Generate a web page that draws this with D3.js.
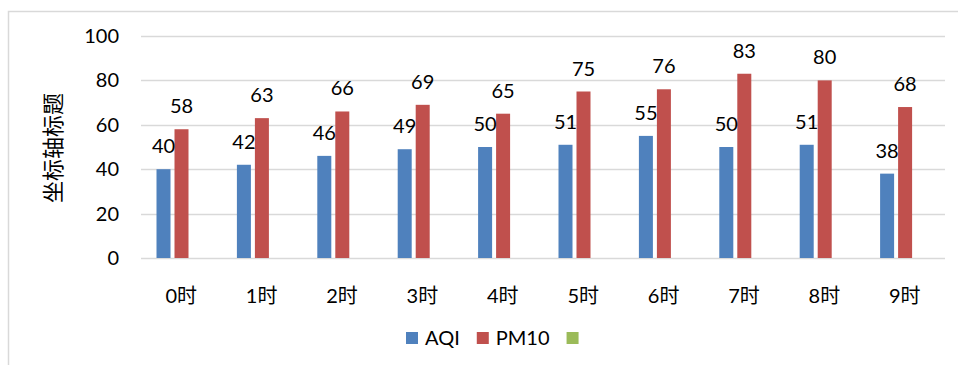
<!DOCTYPE html>
<html>
<head>
<meta charset="utf-8">
<script src="https://cdn.jsdelivr.net/npm/d3@7/dist/d3.min.js"></script>
<style>
  body { margin: 0; background: #fff; }
  svg text { font-family: Lato, "Noto Sans CJK SC", sans-serif; fill: #000; }
</style>
</head>
<body>
<div id="chart"></div>
<script>
// chart data
const hours = ['0时', '1时', '2时', '3时', '4时', '5时', '6时', '7时', '8时', '9时'];
const seriesNames = ['AQI', 'PM10', ''];
const aqiValues = [40, 42, 46, 49, 50, 51, 55, 50, 51, 38];
const pm10Values = [58, 63, 66, 69, 65, 75, 76, 83, 80, 68];
const emptyValues = [null, null, null, null, null, null, null, null, null, null];
const yTicks = [0, 20, 40, 60, 80, 100];

const CONFIG = {
  WIDTH: 958,
  HEIGHT: 365,
  COLORS: ['#4F81BD', '#C0504D', '#9BBB59'],
  GRID_COLOR: '#D9D9D9',
  BORDER_COLOR: '#D9D9D9',
};

const allSeries = [aqiValues, pm10Values, emptyValues];

const svg = d3.select('#chart')
  .append('svg')
  .attr('width', CONFIG.WIDTH)
  .attr('height', CONFIG.HEIGHT);

// outer chart border (runs off the right and bottom edge)
svg.append('rect')
  .attr('x', 8.5).attr('y', 11.5)
  .attr('width', 980).attr('height', 380)
  .attr('fill', 'none')
  .attr('stroke', CONFIG.BORDER_COLOR)
  .attr('stroke-width', 1.5);

// scales
const x = d3.scaleBand().domain(hours).range([141, 945]);
const xInner = d3.scaleBand()
  .domain(d3.range(seriesNames.length))
  .range([15.5, 65.5])
  .paddingInner(0.222);
const y = d3.scaleLinear().domain([0, 100]).range([258, 36]);

// gridlines
svg.append('g')
  .selectAll('line')
  .data(yTicks)
  .join('line')
  .attr('x1', 141).attr('x2', 945)
  .attr('y1', d => Math.round(y(d)) + 0.5)
  .attr('y2', d => Math.round(y(d)) + 0.5)
  .attr('stroke', CONFIG.GRID_COLOR)
  .attr('stroke-width', 1.5);

// y tick labels
svg.append('g')
  .selectAll('text')
  .data(yTicks)
  .join('text')
  .attr('x', 119)
  .attr('y', d => y(d))
  .attr('dy', '0.35em')
  .attr('text-anchor', 'end')
  .attr('font-size', 20)
  .text(d => d);

// y axis title
svg.append('text')
  .attr('transform', 'translate(61,148) rotate(-90)')
  .attr('text-anchor', 'middle')
  .attr('font-size', 22)
  .text('坐标轴标题');

// bars
const barData = [];
allSeries.forEach((values, s) => {
  values.forEach((v, i) => {
    if (v != null) barData.push({ s, hour: hours[i], value: v });
  });
});

svg.append('g')
  .selectAll('rect')
  .data(barData)
  .join('rect')
  .attr('x', d => x(d.hour) + xInner(d.s))
  .attr('y', d => y(d.value))
  .attr('width', xInner.bandwidth())
  .attr('height', d => y(0) - y(d.value))
  .attr('fill', d => CONFIG.COLORS[d.s]);

// data labels
svg.append('g')
  .selectAll('text')
  .data(barData)
  .join('text')
  .attr('x', d => x(d.hour) + xInner(d.s) + xInner.bandwidth() / 2)
  .attr('y', d => y(d.value) - 16)
  .attr('text-anchor', 'middle')
  .attr('font-size', 20)
  .text(d => d.value);

// category labels
svg.append('g')
  .selectAll('text')
  .data(hours)
  .join('text')
  .attr('x', d => x(d) + x.bandwidth() / 2)
  .attr('y', 303)
  .attr('text-anchor', 'middle')
  .attr('font-size', 20)
  .text(d => d);

// legend
const legend = svg.append('g');
let lx = 406;
seriesNames.forEach((name, s) => {
  legend.append('rect')
    .attr('x', lx).attr('y', 332)
    .attr('width', 12).attr('height', 12)
    .attr('fill', CONFIG.COLORS[s]);
  lx += 19;
  if (name) {
    const t = legend.append('text')
      .attr('x', lx).attr('y', 338)
      .attr('dy', '0.35em')
      .attr('font-size', 20)
      .text(name);
    lx += t.node().getComputedTextLength() + 17;
  }
});
</script>
</body>
</html>
